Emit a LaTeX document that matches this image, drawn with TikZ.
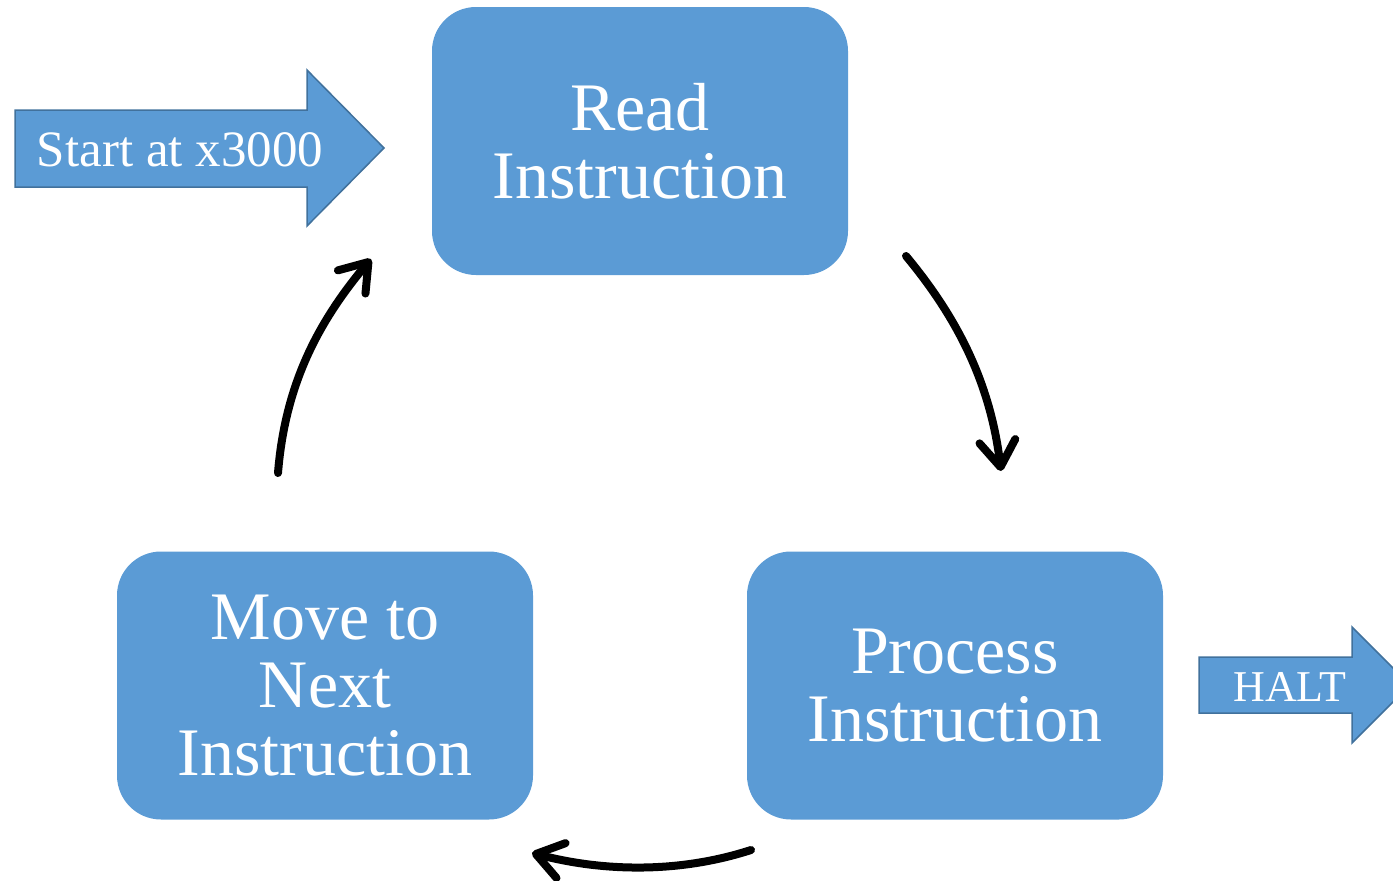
\documentclass[tikz,border=0pt]{standalone}
\usepackage{fontspec}
\setmainfont{Liberation Serif}
\usetikzlibrary{arrows.meta}
\definecolor{boxblue}{HTML}{5B9BD5}
\definecolor{edgeblue}{HTML}{41719C}
\tikzset{
  stepbox/.style={rectangle, rounded corners=44pt, fill=boxblue, draw=none,
    minimum width=416pt, minimum height=268pt, align=center, text=white,
    font=\fontsize{68}{68}\selectfont, inner sep=0pt},
  bigarrow/.style={fill=boxblue, draw=edgeblue, line width=1.5pt},
  arrowtext/.style={text=white, inner sep=0pt},
  loop/.style={line width=8pt, line cap=round, -{Straight Barb[length=26pt,width=36pt,round]}},
}
\begin{document}
\begin{tikzpicture}[x=1pt,y=-1pt]
\useasboundingbox (0,0) rectangle (1393,881);
\clip (0,0) rectangle (1393,881);
% boxes
\node[stepbox] (read) at (640,141) {Read\\Instruction};
\node[stepbox] (proc) at (955,685.5) {Process\\Instruction};
\node[stepbox] (move) at (325,685.5) {Move to\\Next\\Instruction};
% start arrow
\draw[bigarrow] (15,110) -- (307,110) -- (307,70) -- (384,148) -- (307,226) -- (307,187) -- (15,187) -- cycle;
\node[arrowtext, font=\fontsize{51}{51}\selectfont] (start) at (180,150) {Start at x3000};
% halt arrow
\draw[bigarrow] (1199,657) -- (1352,657) -- (1352,627) -- (1410,685) -- (1352,743) -- (1352,713) -- (1199,713) -- cycle;
\node[arrowtext, font=\fontsize{44}{44}\selectfont] (halt) at (1290,687) {HALT};
% cycle arrows
\coordinate (a1s) at (906,256);
\coordinate (a1e) at (1001,471);
\coordinate (a2s) at (751,850);
\coordinate (a2e) at (532,853);
\coordinate (a3s) at (278,473);
\coordinate (a3e) at (371,259);
\draw[loop] (a1s) .. controls (955,315) and (990,380) .. (a1e);
\draw[loop] (a2s) .. controls (680,873) and (605,872) .. (a2e);
\draw[loop] (a3s) .. controls (285,385) and (318,322) .. (a3e);
\end{tikzpicture}
\end{document}
